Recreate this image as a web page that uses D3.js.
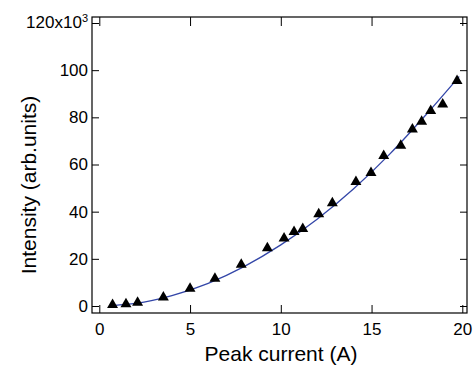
<!DOCTYPE html>
<html lang="en">
<head>
    <meta charset="UTF-8">
    <title>Intensity vs Peak current</title>
    <script src="https://d3js.org/d3.v7.min.js"></script>
    <style>
        body { margin: 0; background: #fff; }
        svg { font-family: "Liberation Sans", Arial, sans-serif; }
        .axis text { font-size: 17px; fill: #000; }
        .axis line { stroke: #000; stroke-width: 1px; }
        .axis path { display: none; }
    </style>
</head>
<body>
<svg width="474" height="370"></svg>
<script>
    // Measured points (x in A, y in units of 10^3)
    const current = [0.73, 1.47, 2.11, 3.53, 5.0, 6.37, 7.82, 9.26, 10.18, 10.73, 11.21,
                     12.09, 12.84, 14.14, 14.97, 15.67, 16.61, 17.25, 17.76, 18.26, 18.92, 19.71];
    const intensity = [0.5, 0.8, 1.4, 3.7, 7.4, 11.6, 17.6, 24.6, 28.7, 31.5, 32.7,
                       39.0, 43.6, 52.7, 56.5, 63.7, 68.0, 74.9, 78.2, 82.8, 85.5, 95.5];

    // Fit curve
    const fitX = [0.73, 2, 4, 6, 8, 10, 12, 14, 16, 18, 19.83];
    const fitY = [0.2, 1.1, 4.4, 9.6, 16.8, 25.9, 36.8, 49.6, 64.4, 81.1, 97.3];

    const xTicks = [0, 5, 10, 15, 20];
    const yTicks = [0, 20, 40, 60, 80, 100, 120];

    // Plot frame
    const frame = {left: 92, right: 467, top: 17, bottom: 313};

    const x = d3.scaleLinear().domain([0, 20]).range([99.3, 462.3]);
    const y = d3.scaleLinear().domain([0, 120]).range([306, 23]);

    const svg = d3.select("svg");

    // Frame box
    svg.append("rect")
        .attr("x", frame.left)
        .attr("y", frame.top)
        .attr("width", frame.right - frame.left)
        .attr("height", frame.bottom - frame.top)
        .attr("fill", "none")
        .attr("stroke", "#000")
        .attr("stroke-width", 1.2);

    // Bottom axis
    svg.append("g")
        .attr("class", "axis")
        .attr("transform", "translate(0," + frame.bottom + ")")
        .call(d3.axisBottom(x).tickValues(xTicks).tickSize(-8).tickPadding(10).tickFormat(d3.format("d")));

    // Top axis (mirror, no labels)
    svg.append("g")
        .attr("class", "axis")
        .attr("transform", "translate(0," + frame.top + ")")
        .call(d3.axisTop(x).tickValues(xTicks).tickSize(-9).tickFormat(""));

    // Left axis
    svg.append("g")
        .attr("class", "axis")
        .attr("transform", "translate(" + frame.left + ",0)")
        .call(d3.axisLeft(y).tickValues(yTicks).tickSize(-7).tickPadding(4)
            .tickFormat(d => d === 120 ? "" : d));

    // Right axis (mirror, no labels)
    svg.append("g")
        .attr("class", "axis")
        .attr("transform", "translate(" + frame.right + ",0)")
        .call(d3.axisRight(y).tickValues(yTicks).tickSize(-7).tickFormat(""));

    // Top label 120x10^3
    const topLabel = svg.append("text")
        .attr("x", frame.left - 4)
        .attr("y", y(120))
        .attr("dy", "0.32em")
        .attr("text-anchor", "end")
        .style("font-size", "17px");
    topLabel.append("tspan").text("120x10");
    topLabel.append("tspan")
        .attr("dy", "-0.55em")
        .style("font-size", "11px")
        .text("3");

    // Fit line
    const fitData = fitX.map((v, i) => ({x: v, y: fitY[i]}));
    svg.append("path")
        .datum(fitData)
        .attr("fill", "none")
        .attr("stroke", "#3346a8")
        .attr("stroke-width", 1.3)
        .attr("d", d3.line().x(d => x(d.x)).y(d => y(d.y)).curve(d3.curveMonotoneX));

    // Data markers
    const points = current.map((v, i) => ({x: v, y: intensity[i]}));
    svg.append("g")
        .selectAll("path")
        .data(points)
        .join("path")
        .attr("transform", d => "translate(" + x(d.x) + "," + y(d.y) + ")")
        .attr("d", d3.symbol().type(d3.symbolTriangle).size(52))
        .attr("fill", "#000");

    // Axis titles
    svg.append("text")
        .attr("x", 281)
        .attr("y", 361)
        .attr("text-anchor", "middle")
        .style("font-size", "21px")
        .text("Peak current (A)");

    svg.append("text")
        .attr("transform", "translate(36,185) rotate(-90)")
        .attr("text-anchor", "middle")
        .style("font-size", "21px")
        .text("Intensity (arb.units)");
</script>
</body>
</html>
